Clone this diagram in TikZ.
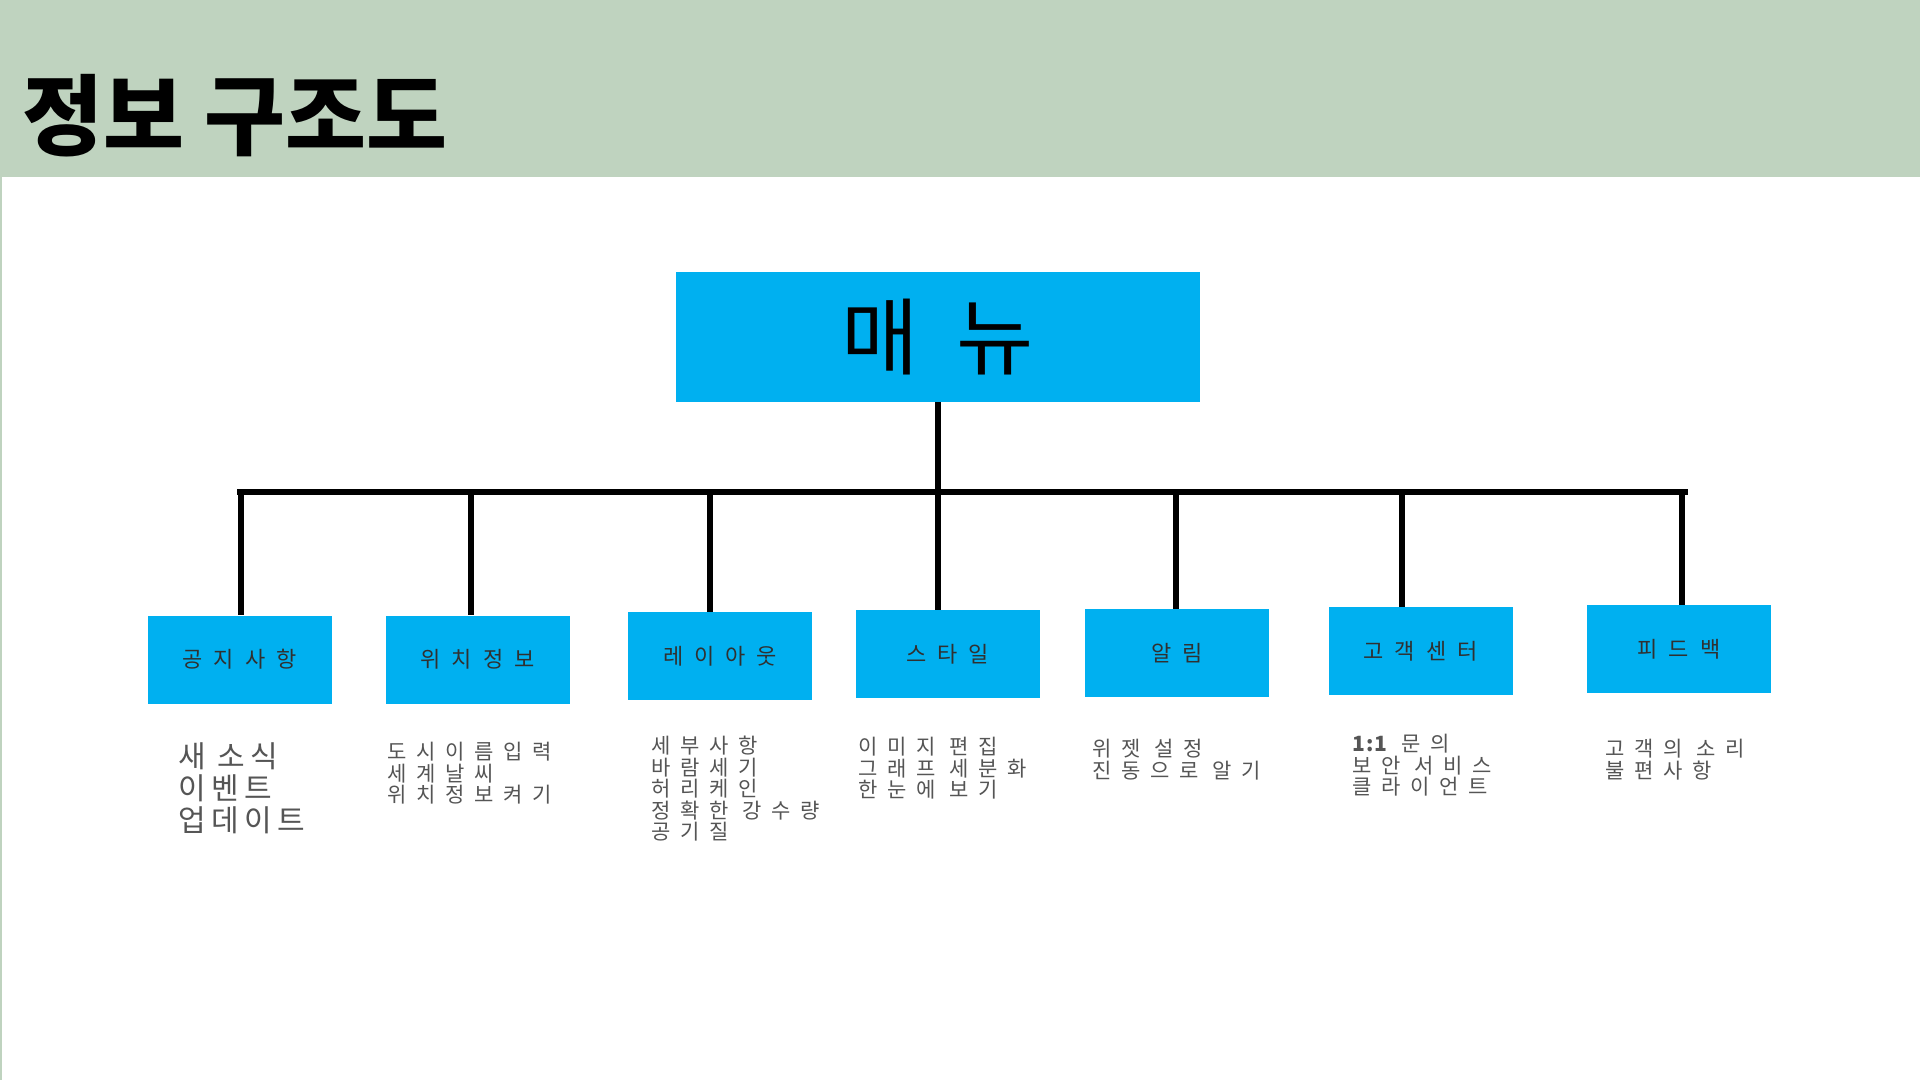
\documentclass[tikz,border=0pt]{standalone}
\usepackage{fontspec}
\newfontfamily\krsans{Noto Sans CJK KR}
\newfontfamily\krbig{Noto Sans CJK KR}[LetterSpace=45]
\newfontfamily\krlabel{Noto Sans CJK KR}[LetterSpace=50]
\newfontfamily\krdesc{Noto Sans CJK KR}[LetterSpace=46]
\newfontfamily\krdescbig{Noto Sans CJK KR}[LetterSpace=18]
\newfontfamily\krnum{Noto Sans CJK KR}[LetterSpace=5]
\definecolor{hdr}{HTML}{BFD3BF}
\definecolor{boxc}{HTML}{00B0F0}
\definecolor{lbl}{HTML}{303030}
\definecolor{dsc}{HTML}{555555}
\tikzset{
  boxstyle/.style={fill=boxc, draw=none, minimum width=184pt, minimum height=88pt, inner sep=0pt,
    text=lbl, font=\krlabel\fontsize{22}{26}\selectfont},
  conn/.style={draw=black, line width=5.5pt},
  desc/.style={anchor=north west, inner sep=0pt, align=left, text=dsc,
    font=\krdesc\fontsize{21}{21.5}\selectfont},
  descbig/.style={desc, font=\krdescbig\fontsize{30}{32}\selectfont}
}
\begin{document}
\begin{tikzpicture}[x=1pt,y=-1pt]
\useasboundingbox (0,0) rectangle (1920,1080);
\fill[white] (0,0) rectangle (1920,1080);
\fill[hdr] (0,0) rectangle (1920,177);
\fill[hdr] (0,177) rectangle (2,1080);
\node[anchor=base west, inner sep=0pt, font=\krsans\bfseries\fontsize{88}{100}\selectfont] (title) at (22,148) {정보 구조도};

\node[fill=boxc, minimum width=524pt, minimum height=130pt, inner sep=0pt, text=black,
  font=\krbig\fontsize{84}{94}\selectfont] (menu) at (938,337) {매뉴};

\node[boxstyle] (c1) at (239.5,659.5) {공지사항};
\node[boxstyle] (c2) at (477.5,659.5) {위치정보};
\node[boxstyle] (c3) at (720,656) {레이아웃};
\node[boxstyle] (c4) at (947.5,654) {스타일};
\node[boxstyle] (c5) at (1177,653) {알림};
\node[boxstyle] (c6) at (1420.5,651) {고객센터};
\node[boxstyle] (c7) at (1679,649) {피드백};

\coordinate (busL) at (240,492);
\coordinate (busR) at (1685,492);
\coordinate (d1) at (241,492);
\coordinate (d2) at (471,492);
\coordinate (d3) at (710,492);
\coordinate (d4) at (938,492);
\coordinate (d5) at (1176,492);
\coordinate (d6) at (1402,492);
\coordinate (d7) at (1682,492);

\draw[conn] (menu.south) -- (menu.south |- busL);
\draw[conn] ([xshift=-2.75pt]busL) -- ([xshift=2.75pt]busR);
\draw[conn] (d1) -- (d1 |- c1.north);
\draw[conn] (d2) -- (d2 |- c2.north);
\draw[conn] (d3) -- (d3 |- c3.north);
\draw[conn] (d4) -- (d4 |- c4.north);
\draw[conn] (d5) -- (d5 |- c5.north);
\draw[conn] (d6) -- (d6 |- c6.north);
\draw[conn] (d7) -- (d7 |- c7.north);

\node[descbig] (t1) at (178,742) {새 소식\\이벤트\\업데이트};
\node[desc] (t2) at (387,742) {도시이름입력\\세계날씨\\위치정보켜기};
\node[desc] (t3) at (651,736) {세부사항\\바람세기\\허리케인\\정확한 강수량\\공기질};
\node[desc] (t4) at (858,737) {이미지 편집\\그래프 세분화\\한눈에 보기};
\node[desc] (t5) at (1092,739) {위젯 설정\\진동으로 알기};
\node[desc] (t6) at (1352,734) {{\krnum\bfseries 1:1} 문의\\보안 서비스\\클라이언트};
\node[desc] (t7) at (1605,739) {고객의 소리\\불편사항};
\end{tikzpicture}
\end{document}
